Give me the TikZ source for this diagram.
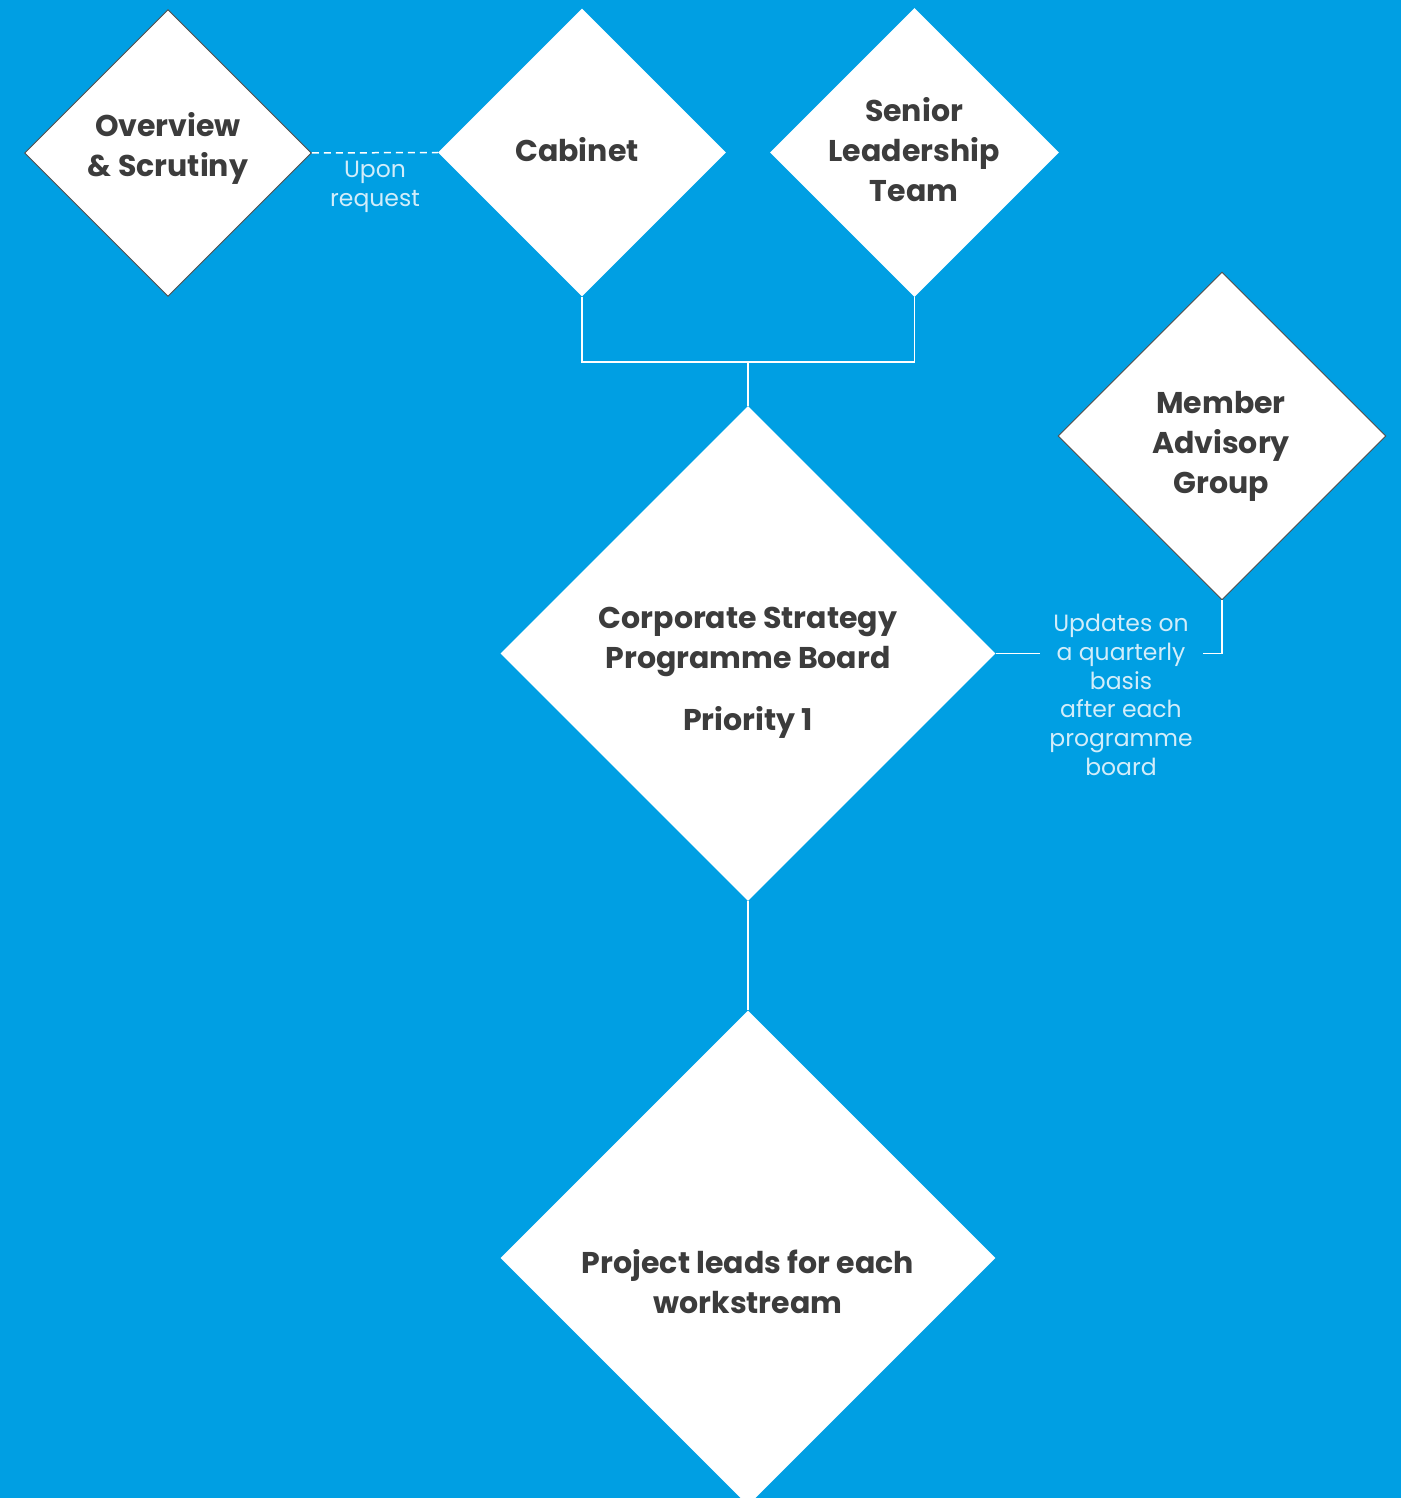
\documentclass[tikz,border=0pt]{standalone}
\usepackage{fontspec}
\setmainfont{Poppins}
\usetikzlibrary{shapes.geometric}
\definecolor{bg}{HTML}{009FE3}
\definecolor{ink}{HTML}{3C3C3C}
\definecolor{lbl}{HTML}{D2EDFA}
\definecolor{edge}{HTML}{4A4A4A}
\begin{document}
\begin{tikzpicture}[x=1pt,y=-1pt,
  dia/.style={shape=diamond, fill=white, inner sep=0pt, minimum width=#1, minimum height=#1},
  rim/.style={draw=edge, line width=0.9pt},
  title/.style={font=\bfseries\fontsize{30}{40}\selectfont, text=ink, align=center, inner sep=0pt},
  note/.style={font=\fontsize{23.5}{28.8}\selectfont, text=lbl, align=center, inner sep=0pt},
  link/.style={draw=white, line width=1.9pt},
  dlink/.style={draw=white, line width=1.5pt, dash pattern=on 7pt off 5pt}]
\fill[bg] (0,0) rectangle (1401,1498);
\useasboundingbox (0,0) rectangle (1401,1498);
% diamonds
\node[dia=287pt, rim] (ov) at (168,153) {};
\node[dia=288pt] (cab) at (582,152.5) {};
\node[dia=289pt] (slt) at (914.5,152.5) {};
\node[dia=328pt, rim] (mag) at (1222,436) {};
\node[dia=495pt] (csp) at (748,653.5) {};
\node[dia=495pt] (prj) at (748,1258) {};
% texts
\node[title] (tov) at (168,148.5) {Overview\\\& Scrutiny};
\node[title] (tcab) at (577,150) {Cabinet};
\node[title] (tslt) at (914,150) {Senior\\Leadership\\Team};
\node[title] (tmag) at (1221,446) {Member\\Advisory\\Group};
\node[title] (tcsp) at (748,673) {Corporate Strategy\\Programme Board\\[22pt]Priority 1};
\node[title] (tprj) at (748,1282) {Project leads for each\\workstream};
% connectors
\coordinate (j) at (748,362);
\draw[link] (cab.south) |- (j) -| (slt.south);
\draw[link] (j) -- (csp.north);
\draw[link] (csp.south) -- (prj.north);
\draw[dlink] (ov.east) -- (cab.west);
\node[note] (lup) at (375,187) {Upon\\request};
\coordinate (u1) at (1040,653.5);
\coordinate (u2) at (1203,653.5);
\draw[link] (csp.east) -- (u1);
\draw[link] (u2) -| (mag.south);
\node[note] (lupd) at (1121,695) {Updates on\\a quarterly\\basis\\after each\\programme\\board};
\end{tikzpicture}
\end{document}
